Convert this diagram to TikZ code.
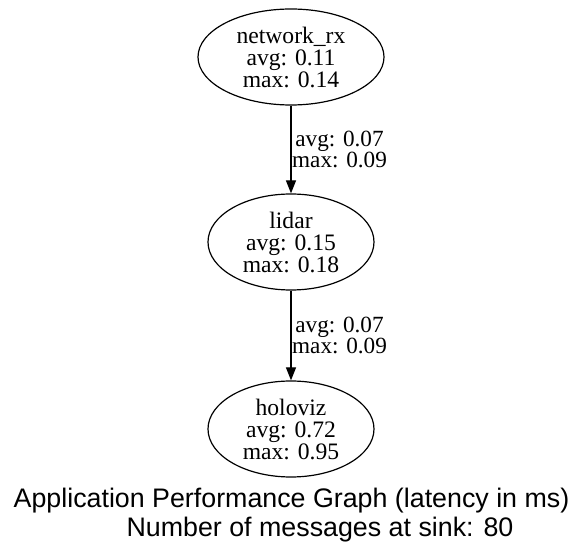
\documentclass[tikz,border=0pt]{standalone}
\usepackage{fontspec}
\setmainfont{Liberation Serif}
\newfontfamily\titlefont{Liberation Sans}
\usetikzlibrary{shapes.geometric,arrows.meta}

\tikzset{
  task/.style={draw, ellipse, inner sep=0pt, line width=0.6pt, align=center,
    minimum width=83pt, minimum height=48pt, font=\fontsize{11.8}{11}\selectfont},
  link/.style={-{Triangle[length=6.5pt,width=5pt]}, line width=0.55pt},
  lat/.style={anchor=west, inner sep=0pt, xshift=0.3pt, align=center,
    font=\fontsize{11.6}{10.5}\selectfont},
  caption/.style={anchor=base, inner sep=0pt, font=\titlefont\fontsize{13.4}{14.5}\selectfont},
}

\begin{document}
\begin{tikzpicture}[x=0.5pt,y=-0.5pt]
\useasboundingbox (0,0) rectangle (585,556);

\node[task, minimum width=93pt] (netrx) at (291,57) {network\_rx\\avg: 0.11\\max: 0.14};
\node[task] (lidar)   at (291,242) {lidar\\avg: 0.15\\max: 0.18};
\node[task] (holoviz) at (291,429) {holoviz\\avg: 0.72\\max: 0.95};

\draw[link] (netrx) -- node[lat] {avg: 0.07\\max: 0.09} (lidar);
\draw[link] (lidar) -- node[lat] {avg: 0.07\\max: 0.09} (holoviz);

\node[caption] (title)  at (291.5,508) {Application Performance Graph (latency in ms)};
\node[caption] (msgcnt) at (320,537) {Number of messages at sink: 80};

\end{tikzpicture}
\end{document}
